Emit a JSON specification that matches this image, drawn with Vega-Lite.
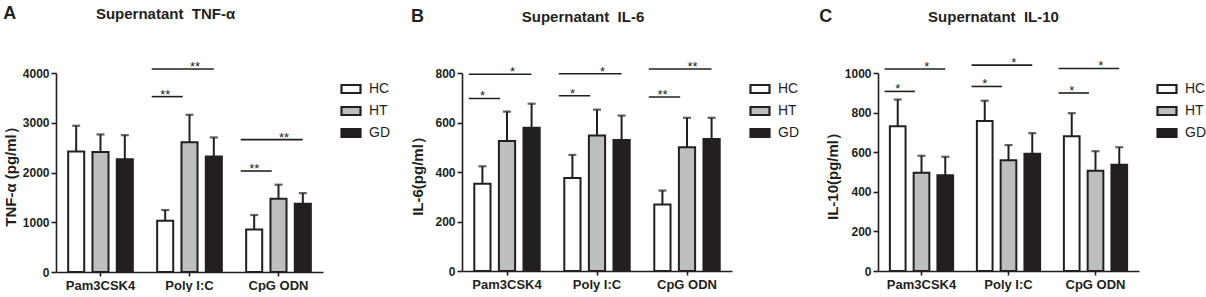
{
  "$schema": "https://vega.github.io/schema/vega-lite/v6.json",
  "padding": {"left": 3, "top": 5, "right": 0, "bottom": 0},
  "spacing": 15,
  "datasets": {
    "barsA": [
      {"stim": "Pam3CSK4", "series": "HC", "mean": 2420, "upper": 2940},
      {"stim": "Pam3CSK4", "series": "HT", "mean": 2410, "upper": 2765},
      {"stim": "Pam3CSK4", "series": "GD", "mean": 2265, "upper": 2750},
      {"stim": "Poly I:C", "series": "HC", "mean": 1030, "upper": 1245},
      {"stim": "Poly I:C", "series": "HT", "mean": 2610, "upper": 3160},
      {"stim": "Poly I:C", "series": "GD", "mean": 2320, "upper": 2705},
      {"stim": "CpG ODN", "series": "HC", "mean": 855, "upper": 1145},
      {"stim": "CpG ODN", "series": "HT", "mean": 1470, "upper": 1755},
      {"stim": "CpG ODN", "series": "GD", "mean": 1370, "upper": 1585}
    ],
    "sigA": [
      {"stim": "Poly I:C", "from": "HC", "to": "HT", "level": 3525, "label": "**"},
      {"stim": "Poly I:C", "from": "HC", "to": "GD", "level": 4080, "label": "**"},
      {"stim": "CpG ODN", "from": "HC", "to": "HT", "level": 2030, "label": "**"},
      {"stim": "CpG ODN", "from": "HC", "to": "GD", "level": 2660, "label": "**"}
    ],
    "barsB": [
      {"stim": "Pam3CSK4", "series": "HC", "mean": 353, "upper": 423},
      {"stim": "Pam3CSK4", "series": "HT", "mean": 525, "upper": 644},
      {"stim": "Pam3CSK4", "series": "GD", "mean": 579, "upper": 676},
      {"stim": "Poly I:C", "series": "HC", "mean": 376, "upper": 469},
      {"stim": "Poly I:C", "series": "HT", "mean": 547, "upper": 652},
      {"stim": "Poly I:C", "series": "GD", "mean": 529, "upper": 628},
      {"stim": "CpG ODN", "series": "HC", "mean": 269, "upper": 325},
      {"stim": "CpG ODN", "series": "HT", "mean": 500, "upper": 619},
      {"stim": "CpG ODN", "series": "GD", "mean": 533, "upper": 619}
    ],
    "sigB": [
      {"stim": "Pam3CSK4", "from": "HC", "to": "HT", "level": 697, "label": "*"},
      {"stim": "Pam3CSK4", "from": "HC", "to": "GD", "level": 795, "label": "*"},
      {"stim": "Poly I:C", "from": "HC", "to": "HT", "level": 708, "label": "*"},
      {"stim": "Poly I:C", "from": "HC", "to": "GD", "level": 797, "label": "*"},
      {"stim": "CpG ODN", "from": "HC", "to": "HT", "level": 703, "label": "**"},
      {"stim": "CpG ODN", "from": "HC", "to": "GD", "level": 816, "label": "**"}
    ],
    "barsC": [
      {"stim": "Pam3CSK4", "series": "HC", "mean": 731, "upper": 866},
      {"stim": "Pam3CSK4", "series": "HT", "mean": 496, "upper": 582},
      {"stim": "Pam3CSK4", "series": "GD", "mean": 484, "upper": 577},
      {"stim": "Poly I:C", "series": "HC", "mean": 757, "upper": 860},
      {"stim": "Poly I:C", "series": "HT", "mean": 559, "upper": 636},
      {"stim": "Poly I:C", "series": "GD", "mean": 592, "upper": 696},
      {"stim": "CpG ODN", "series": "HC", "mean": 681, "upper": 797},
      {"stim": "CpG ODN", "series": "HT", "mean": 506, "upper": 605},
      {"stim": "CpG ODN", "series": "GD", "mean": 537, "upper": 625}
    ],
    "sigC": [
      {"stim": "Pam3CSK4", "from": "HC", "to": "HT", "level": 907, "label": "*"},
      {"stim": "Pam3CSK4", "from": "HC", "to": "GD", "level": 1020, "label": "*"},
      {"stim": "Poly I:C", "from": "HC", "to": "HT", "level": 932, "label": "*"},
      {"stim": "Poly I:C", "from": "HC", "to": "GD", "level": 1040, "label": "*"},
      {"stim": "CpG ODN", "from": "HC", "to": "HT", "level": 899, "label": "*"},
      {"stim": "CpG ODN", "from": "HC", "to": "GD", "level": 1023, "label": "*"}
    ]
  },
  "hconcat": [
    {
      "title": {"text": "A", "anchor": "start", "frame": "bounds", "fontSize": 18, "dy": 20},
      "resolve": {"scale": {"fill": "independent"}, "legend": {"fill": "independent"}},
      "hconcat": [
        {
          "width": 267, "height": 199,
          "title": {"text": "Supernatant\u00a0 TNF-α", "anchor": "middle", "frame": "group", "dx": -24, "offset": 39},
          "resolve": {"scale": {"xOffset": "independent"}},
          "layer": [
            {
              "data": {"name": "barsA"},
              "mark": {"type": "bar", "stroke": "#231f20", "strokeWidth": 2},
              "encoding": {
                "x": {"field": "stim", "type": "nominal", "sort": ["Pam3CSK4", "Poly I:C", "CpG ODN"], "scale": {"paddingInner": 0, "paddingOuter": 0}, "title": null, "axis": {"labelAngle": 0, "labelFontSize": 13, "tickSize": 4, "labelPadding": 3}},
                "xOffset": {"field": "series", "type": "nominal", "scale": {"domain": ["HC", "HT", "GD"], "paddingInner": 0.34, "paddingOuter": 0.5}},
                "y": {"field": "mean", "type": "quantitative", "title": "TNF-α (pg/ml）", "scale": {"domain": [0, 4000], "nice": false}, "axis": {"values": [0, 1000, 2000, 3000, 4000], "tickCount": 5, "format": "d", "titlePadding": 4}},
                "fill": {"field": "series", "type": "nominal", "scale": {"domain": ["HC", "HT", "GD"], "range": ["#ffffff", "#bcbec0", "#231f20"]}, "legend": {"title": null}}
              }
            },
            {
              "data": {"name": "barsA"},
              "mark": {"type": "rule", "color": "#231f20", "strokeWidth": 2},
              "encoding": {
                "x": {"field": "stim", "type": "nominal", "sort": ["Pam3CSK4", "Poly I:C", "CpG ODN"], "title": null},
                "xOffset": {"field": "series", "type": "nominal", "scale": {"domain": ["HC", "HT", "GD"], "paddingInner": 0.34, "paddingOuter": 0.5}},
                "y": {"field": "mean", "type": "quantitative", "title": "TNF-α (pg/ml）", "scale": {"domain": [0, 4000], "nice": false}},
                "y2": {"field": "upper"}
              }
            },
            {
              "data": {"name": "barsA"},
              "mark": {"type": "tick", "color": "#231f20", "thickness": 2.2, "size": 8, "orient": "horizontal"},
              "encoding": {
                "x": {"field": "stim", "type": "nominal", "sort": ["Pam3CSK4", "Poly I:C", "CpG ODN"], "title": null},
                "xOffset": {"field": "series", "type": "nominal", "scale": {"domain": ["HC", "HT", "GD"], "paddingInner": 0.34, "paddingOuter": 0.5}},
                "y": {"field": "upper", "type": "quantitative", "title": "TNF-α (pg/ml）", "scale": {"domain": [0, 4000], "nice": false}}
              }
            },
            {
              "data": {"name": "sigA"},
              "transform": [{"fold": ["from", "to"], "as": ["end", "point"]}],
              "mark": {"type": "line", "color": "#231f20", "strokeWidth": 1.6},
              "encoding": {
                "x": {"field": "stim", "type": "nominal", "sort": ["Pam3CSK4", "Poly I:C", "CpG ODN"], "title": null},
                "xOffset": {"field": "point", "type": "nominal", "scale": {"domain": ["HC", "HT", "GD"], "paddingInner": 0, "paddingOuter": 0.435, "align": 0.25}},
                "y": {"field": "level", "type": "quantitative", "title": "TNF-α (pg/ml）", "scale": {"domain": [0, 4000], "nice": false}},
                "detail": [{"field": "stim", "type": "nominal"}, {"field": "to", "type": "nominal"}]
              }
            },
            {
              "data": {"name": "sigA"},
              "mark": {"type": "text", "fontSize": 13, "baseline": "alphabetic", "dy": 2, "color": "#231f20"},
              "encoding": {
                "x": {"field": "stim", "type": "nominal", "sort": ["Pam3CSK4", "Poly I:C", "CpG ODN"], "title": null},
                "xOffset": {"field": "to", "type": "nominal", "scale": {"domain": ["HT", "GD"], "paddingInner": 0, "paddingOuter": 3.045, "align": 0.343}},
                "y": {"field": "level", "type": "quantitative", "title": "TNF-α (pg/ml）", "scale": {"domain": [0, 4000], "nice": false}},
                "text": {"field": "label"}
              }
            }
          ]
        }
      ]
    },
    {
      "title": {"text": "B", "anchor": "start", "frame": "bounds", "fontSize": 18, "dy": 20},
      "resolve": {"scale": {"fill": "independent"}, "legend": {"fill": "independent"}},
      "hconcat": [
        {
          "width": 270, "height": 198,
          "title": {"text": "Supernatant\u00a0 IL-6", "anchor": "middle", "frame": "group", "dx": -14, "offset": 36},
          "resolve": {"scale": {"xOffset": "independent"}},
          "layer": [
            {
              "data": {"name": "barsB"},
              "mark": {"type": "bar", "stroke": "#231f20", "strokeWidth": 2},
              "encoding": {
                "x": {"field": "stim", "type": "nominal", "sort": ["Pam3CSK4", "Poly I:C", "CpG ODN"], "scale": {"paddingInner": 0, "paddingOuter": 0}, "title": null, "axis": {"labelAngle": 0, "labelFontSize": 13, "tickSize": 4, "labelPadding": 3}},
                "xOffset": {"field": "series", "type": "nominal", "scale": {"domain": ["HC", "HT", "GD"], "paddingInner": 0.34, "paddingOuter": 0.5}},
                "y": {"field": "mean", "type": "quantitative", "title": "IL-6(pg/ml）", "scale": {"domain": [0, 800], "nice": false}, "axis": {"values": [0, 200, 400, 600, 800], "tickCount": 5, "format": "d", "titlePadding": 9}},
                "fill": {"field": "series", "type": "nominal", "scale": {"domain": ["HC", "HT", "GD"], "range": ["#ffffff", "#bcbec0", "#231f20"]}, "legend": {"title": null}}
              }
            },
            {
              "data": {"name": "barsB"},
              "mark": {"type": "rule", "color": "#231f20", "strokeWidth": 2},
              "encoding": {
                "x": {"field": "stim", "type": "nominal", "sort": ["Pam3CSK4", "Poly I:C", "CpG ODN"], "title": null},
                "xOffset": {"field": "series", "type": "nominal", "scale": {"domain": ["HC", "HT", "GD"], "paddingInner": 0.34, "paddingOuter": 0.5}},
                "y": {"field": "mean", "type": "quantitative", "title": "IL-6(pg/ml）", "scale": {"domain": [0, 800], "nice": false}},
                "y2": {"field": "upper"}
              }
            },
            {
              "data": {"name": "barsB"},
              "mark": {"type": "tick", "color": "#231f20", "thickness": 2.2, "size": 8, "orient": "horizontal"},
              "encoding": {
                "x": {"field": "stim", "type": "nominal", "sort": ["Pam3CSK4", "Poly I:C", "CpG ODN"], "title": null},
                "xOffset": {"field": "series", "type": "nominal", "scale": {"domain": ["HC", "HT", "GD"], "paddingInner": 0.34, "paddingOuter": 0.5}},
                "y": {"field": "upper", "type": "quantitative", "title": "IL-6(pg/ml）", "scale": {"domain": [0, 800], "nice": false}}
              }
            },
            {
              "data": {"name": "sigB"},
              "transform": [{"fold": ["from", "to"], "as": ["end", "point"]}],
              "mark": {"type": "line", "color": "#231f20", "strokeWidth": 1.6},
              "encoding": {
                "x": {"field": "stim", "type": "nominal", "sort": ["Pam3CSK4", "Poly I:C", "CpG ODN"], "title": null},
                "xOffset": {"field": "point", "type": "nominal", "scale": {"domain": ["HC", "HT", "GD"], "paddingInner": 0, "paddingOuter": 0.435, "align": 0.25}},
                "y": {"field": "level", "type": "quantitative", "title": "IL-6(pg/ml）", "scale": {"domain": [0, 800], "nice": false}},
                "detail": [{"field": "stim", "type": "nominal"}, {"field": "to", "type": "nominal"}]
              }
            },
            {
              "data": {"name": "sigB"},
              "mark": {"type": "text", "fontSize": 13, "baseline": "alphabetic", "dy": 2, "color": "#231f20"},
              "encoding": {
                "x": {"field": "stim", "type": "nominal", "sort": ["Pam3CSK4", "Poly I:C", "CpG ODN"], "title": null},
                "xOffset": {"field": "to", "type": "nominal", "scale": {"domain": ["HT", "GD"], "paddingInner": 0, "paddingOuter": 3.045, "align": 0.343}},
                "y": {"field": "level", "type": "quantitative", "title": "IL-6(pg/ml）", "scale": {"domain": [0, 800], "nice": false}},
                "text": {"field": "label"}
              }
            }
          ]
        }
      ]
    },
    {
      "title": {"text": "C", "anchor": "start", "frame": "bounds", "fontSize": 18, "dy": 20, "dx": -6},
      "resolve": {"scale": {"fill": "independent"}, "legend": {"fill": "independent"}},
      "hconcat": [
        {
          "width": 261, "height": 198,
          "title": {"text": "Supernatant\u00a0 IL-10", "anchor": "middle", "frame": "group", "dx": -15, "offset": 32},
          "resolve": {"scale": {"xOffset": "independent"}},
          "layer": [
            {
              "data": {"name": "barsC"},
              "mark": {"type": "bar", "stroke": "#231f20", "strokeWidth": 2},
              "encoding": {
                "x": {"field": "stim", "type": "nominal", "sort": ["Pam3CSK4", "Poly I:C", "CpG ODN"], "scale": {"paddingInner": 0, "paddingOuter": 0}, "title": null, "axis": {"labelAngle": 0, "labelFontSize": 13, "tickSize": 4, "labelPadding": 3}},
                "xOffset": {"field": "series", "type": "nominal", "scale": {"domain": ["HC", "HT", "GD"], "paddingInner": 0.34, "paddingOuter": 0.5}},
                "y": {"field": "mean", "type": "quantitative", "title": "IL-10(pg/ml）", "scale": {"domain": [0, 1000], "nice": false}, "axis": {"values": [0, 200, 400, 600, 800, 1000], "tickCount": 6, "format": "d", "titlePadding": 4}},
                "fill": {"field": "series", "type": "nominal", "scale": {"domain": ["HC", "HT", "GD"], "range": ["#ffffff", "#bcbec0", "#231f20"]}, "legend": {"title": null}}
              }
            },
            {
              "data": {"name": "barsC"},
              "mark": {"type": "rule", "color": "#231f20", "strokeWidth": 2},
              "encoding": {
                "x": {"field": "stim", "type": "nominal", "sort": ["Pam3CSK4", "Poly I:C", "CpG ODN"], "title": null},
                "xOffset": {"field": "series", "type": "nominal", "scale": {"domain": ["HC", "HT", "GD"], "paddingInner": 0.34, "paddingOuter": 0.5}},
                "y": {"field": "mean", "type": "quantitative", "title": "IL-10(pg/ml）", "scale": {"domain": [0, 1000], "nice": false}},
                "y2": {"field": "upper"}
              }
            },
            {
              "data": {"name": "barsC"},
              "mark": {"type": "tick", "color": "#231f20", "thickness": 2.2, "size": 8, "orient": "horizontal"},
              "encoding": {
                "x": {"field": "stim", "type": "nominal", "sort": ["Pam3CSK4", "Poly I:C", "CpG ODN"], "title": null},
                "xOffset": {"field": "series", "type": "nominal", "scale": {"domain": ["HC", "HT", "GD"], "paddingInner": 0.34, "paddingOuter": 0.5}},
                "y": {"field": "upper", "type": "quantitative", "title": "IL-10(pg/ml）", "scale": {"domain": [0, 1000], "nice": false}}
              }
            },
            {
              "data": {"name": "sigC"},
              "transform": [{"fold": ["from", "to"], "as": ["end", "point"]}],
              "mark": {"type": "line", "color": "#231f20", "strokeWidth": 1.6},
              "encoding": {
                "x": {"field": "stim", "type": "nominal", "sort": ["Pam3CSK4", "Poly I:C", "CpG ODN"], "title": null},
                "xOffset": {"field": "point", "type": "nominal", "scale": {"domain": ["HC", "HT", "GD"], "paddingInner": 0, "paddingOuter": 0.435, "align": 0.25}},
                "y": {"field": "level", "type": "quantitative", "title": "IL-10(pg/ml）", "scale": {"domain": [0, 1000], "nice": false}},
                "detail": [{"field": "stim", "type": "nominal"}, {"field": "to", "type": "nominal"}]
              }
            },
            {
              "data": {"name": "sigC"},
              "mark": {"type": "text", "fontSize": 13, "baseline": "alphabetic", "dy": 2, "color": "#231f20"},
              "encoding": {
                "x": {"field": "stim", "type": "nominal", "sort": ["Pam3CSK4", "Poly I:C", "CpG ODN"], "title": null},
                "xOffset": {"field": "to", "type": "nominal", "scale": {"domain": ["HT", "GD"], "paddingInner": 0, "paddingOuter": 3.045, "align": 0.343}},
                "y": {"field": "level", "type": "quantitative", "title": "IL-10(pg/ml）", "scale": {"domain": [0, 1000], "nice": false}},
                "text": {"field": "label"}
              }
            }
          ]
        }
      ]
    }
  ],
  "resolve": {"scale": {"fill": "independent"}, "legend": {"fill": "independent"}},
  "config": {
    "font": "Liberation Sans",
    "view": {"stroke": null},
    "title": {"font": "Liberation Sans", "fontSize": 15, "fontWeight": "bold", "color": "#231f20"},
    "axis": {
      "grid": false,
      "labelOverlap": false,
      "domainColor": "#231f20", "domainWidth": 1.6,
      "tickColor": "#231f20", "tickWidth": 1.6, "tickSize": 5,
      "labelFont": "Liberation Sans", "labelFontWeight": "bold", "labelFontSize": 12, "labelColor": "#231f20", "labelPadding": 2,
      "titleFont": "Liberation Sans", "titleFontWeight": "bold", "titleFontSize": 15, "titleColor": "#231f20"
    },
    "legend": {
      "orient": "right", "offset": 12, "padding": 5,
      "symbolType": "M-1,-0.42H1V0.42H-1Z", "symbolSize": 361,
      "symbolStrokeColor": "#231f20", "symbolStrokeWidth": 2.2,
      "labelFont": "Liberation Sans", "labelFontSize": 14, "labelColor": "#231f20", "labelOffset": 7,
      "rowPadding": 2
    }
  }
}
